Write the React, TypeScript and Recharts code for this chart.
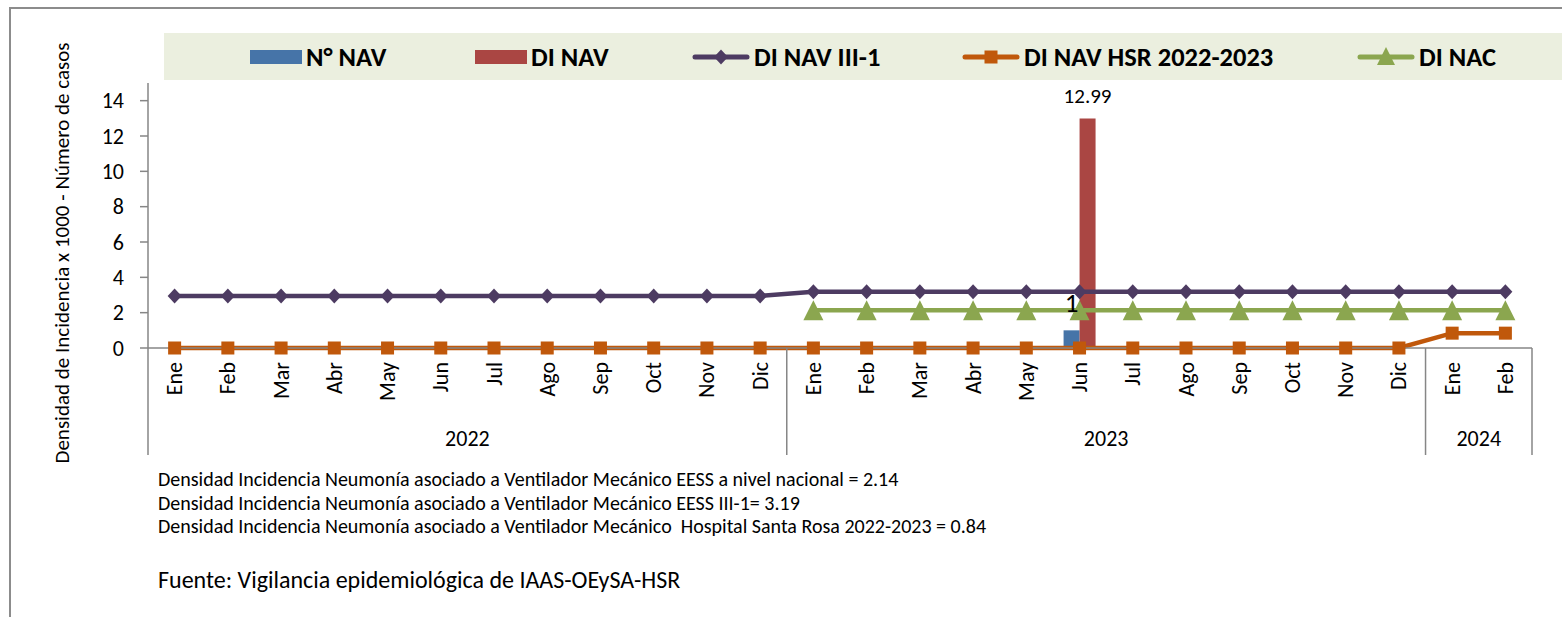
import React from 'react';
import { ComposedChart, Bar, Line, XAxis, YAxis, LabelList } from 'recharts';

// ---------- data ----------
const months = ['Ene', 'Feb', 'Mar', 'Abr', 'May', 'Jun', 'Jul', 'Ago', 'Sep', 'Oct', 'Nov', 'Dic',
  'Ene', 'Feb', 'Mar', 'Abr', 'May', 'Jun', 'Jul', 'Ago', 'Sep', 'Oct', 'Nov', 'Dic',
  'Ene', 'Feb'];
const yearLabels = ['2022', '2023', '2024'];
const monthsPerYear = [12, 12, 2];

const nNav = [null, null, null, null, null, null, null, null, null, null, null, null,
  null, null, null, null, null, 1, null, null, null, null, null, null,
  null, null];
const diNav = [null, null, null, null, null, null, null, null, null, null, null, null,
  null, null, null, null, null, 12.99, null, null, null, null, null, null,
  null, null];
const diNavIII = [2.95, 2.95, 2.95, 2.95, 2.95, 2.95, 2.95, 2.95, 2.95, 2.95, 2.95, 2.95,
  3.19, 3.19, 3.19, 3.19, 3.19, 3.19, 3.19, 3.19, 3.19, 3.19, 3.19, 3.19,
  3.19, 3.19];
const diNavHsr = [0, 0, 0, 0, 0, 0, 0, 0, 0, 0, 0, 0,
  0, 0, 0, 0, 0, 0, 0, 0, 0, 0, 0, 0,
  0.84, 0.84];
const diNac = [null, null, null, null, null, null, null, null, null, null, null, null,
  2.14, 2.14, 2.14, 2.14, 2.14, 2.14, 2.14, 2.14, 2.14, 2.14, 2.14, 2.14,
  2.14, 2.14];

const yTicks = [0, 2, 4, 6, 8, 10, 12, 14];

const seriesNames = ['N° NAV', 'DI NAV', 'DI NAV III-1', 'DI NAV HSR 2022-2023', 'DI NAC'];
const yTitle = 'Densidad de Incidencia x 1000 - Número de casos';
const notes = [
  'Densidad Incidencia Neumonía asociado a Ventilador Mecánico EESS a nivel nacional = 2.14',
  'Densidad Incidencia Neumonía asociado a Ventilador Mecánico EESS III-1= 3.19',
  'Densidad Incidencia Neumonía asociado a Ventilador Mecánico  Hospital Santa Rosa 2022-2023 = 0.84',
];
const source = 'Fuente: Vigilancia epidemiológica de IAAS-OEySA-HSR';

// ---------- derived ----------
const yearOfIndex: string[] = [];
const groupStart: number[] = [];
{
  let s = 0;
  monthsPerYear.forEach((n, g) => {
    groupStart.push(s);
    for (let k = 0; k < n; k++) yearOfIndex.push(yearLabels[g]);
    s += n;
  });
}
const data = months.map((m, i) => ({
  key: `${yearOfIndex[i]}-${m}-${i}`,
  month: m,
  nNav: nNav[i],
  diNav: diNav[i],
  diNavIII: diNavIII[i],
  diNavHsr: diNavHsr[i],
  diNac: diNac[i],
}));

// ---------- layout / style ----------
const FONT = "Carlito, Calibri, 'Open Sans', sans-serif";
const W = 1562;
const H = 617;
const Y_AXIS_W = 148;
const X_AXIS_H = 110;
const MARGIN = { top: 83, right: 30, left: 0, bottom: 159 };
const PLOT_W = W - MARGIN.left - MARGIN.right - Y_AXIS_W;
const BAND = PLOT_W / months.length;
const AXIS_GREY = '#868686';

const C_BLUE = '#4674A8';
const C_RED = '#AA4643';
const C_PURPLE = '#4D3B62';
const C_ORANGE = '#C0580B';
const C_GREEN = '#8BA64F';

const Diamond = ({ cx, cy, fill, size = 7.5 }: any) =>
  <polygon points={`${cx},${cy - size} ${cx + size - 0.5},${cy} ${cx},${cy + size} ${cx - size + 0.5},${cy}`} fill={fill} />;
const Square = ({ cx, cy, fill, size = 6.5 }: any) =>
  <rect x={cx - size} y={cy - size} width={size * 2} height={size * 2} fill={fill} />;
const Triangle = ({ cx, cy, fill, size = 10 }: any) =>
  <polygon points={`${cx},${cy - size} ${cx + size},${cy + size} ${cx - size},${cy + size}`} fill={fill} />;

const mkDot = (Shape: any, fill: string) => (p: any) => {
  if (p.cy == null || p.value == null || (Array.isArray(p.value) && p.value[1] == null)) return <g key={`e-${p.index}`} />;
  return <Shape key={`d-${p.index}`} cx={p.cx} cy={p.cy} fill={fill} />;
};

const MonthTick = (props: any) => {
  const { x, y, payload } = props;
  const i: number = props.index ?? payload.index;
  const els: any[] = [];
  els.push(
    <text key="m" x={x} y={y + 14} transform={`rotate(-90, ${x}, ${y + 14})`} textAnchor="end"
      dominantBaseline="central" fontSize={22} fontFamily={FONT} fill="#000">{months[i]}</text>
  );
  monthsPerYear.forEach((n, g) => {
    const s = groupStart[g];
    if (i === s) {
      els.push(<line key={`s${g}`} x1={x - BAND / 2} x2={x - BAND / 2} y1={y} y2={y + 107} stroke={AXIS_GREY} strokeWidth={1.5} />);
    }
    if (i === s + n - 1 && g === monthsPerYear.length - 1) {
      els.push(<line key={`e${g}`} x1={x + BAND / 2} x2={x + BAND / 2} y1={y} y2={y + 107} stroke={AXIS_GREY} strokeWidth={1.5} />);
    }
    const mid = s + Math.floor((n - 1) / 2);
    if (i === mid) {
      const lx = n % 2 === 0 ? x + BAND / 2 : x;
      els.push(<text key={`y${g}`} x={lx} y={y + 90} textAnchor="middle" dominantBaseline="central"
        fontSize={22} fontFamily={FONT} fill="#000">{yearLabels[g]}</text>);
    }
  });
  return <g>{els}</g>;
};

const YTitle = () => (
  <text transform="translate(62, 253) rotate(-90)" textAnchor="middle" dominantBaseline="central"
    fontSize={21} fontFamily={FONT} fill="#000">{yTitle}</text>
);

const LegendIcon = ({ kind, color }: { kind: string; color: string }) => {
  if (kind === 'bar') {
    return <svg width={52} height={16} style={{ display: 'block' }}><rect x={0} y={1} width={52} height={14} fill={color} /></svg>;
  }
  return (
    <svg width={58} height={24} style={{ display: 'block' }}>
      <line x1={3} x2={55} y1={12} y2={12} stroke={color} strokeWidth={5} strokeLinecap="round" />
      {kind === 'diamond' && <Diamond cx={29} cy={12} fill={color} />}
      {kind === 'square' && <Square cx={29} cy={12} fill={color} />}
      {kind === 'triangle' && <Triangle cx={29} cy={11} fill={color} size={9} />}
    </svg>
  );
};

const LEGEND_LEFT = 164;
const legendItems = [
  { name: seriesNames[0], kind: 'bar', color: C_BLUE, left: 250 },
  { name: seriesNames[1], kind: 'bar', color: C_RED, left: 475 },
  { name: seriesNames[2], kind: 'diamond', color: C_PURPLE, left: 692 },
  { name: seriesNames[3], kind: 'square', color: C_ORANGE, left: 962 },
  { name: seriesNames[4], kind: 'triangle', color: C_GREEN, left: 1357 },
];

export default function App() {
  return (
    <div style={{ position: 'absolute', left: 0, top: 0, width: W, height: H, overflow: 'hidden', background: '#fff' }}>
      <div style={{ position: 'absolute', left: 9, top: 7, width: 1700, height: 800, borderLeft: '2px solid #8c8c8c', borderTop: '2px solid #8c8c8c' }} />
      <div style={{ position: 'absolute', left: LEGEND_LEFT, top: 33, width: 1420, height: 47, background: '#EBEFDF' }}>
        {legendItems.map((it) => (
          <div key={it.name} style={{ position: 'absolute', left: it.left - LEGEND_LEFT, top: 0, height: 47, display: 'flex', alignItems: 'center', gap: 4 }}>
            <LegendIcon kind={it.kind} color={it.color} />
            <span style={{ fontFamily: FONT, fontWeight: 'bold', fontSize: 26.5, color: '#000', whiteSpace: 'nowrap' }}>{it.name}</span>
          </div>
        ))}
      </div>
      <div style={{ position: 'absolute', left: 0, top: 0 }}>
        <ComposedChart width={W} height={H} data={data} margin={MARGIN} barCategoryGap="20%" barGap={0}>
          <XAxis dataKey="key" type="category" height={X_AXIS_H} interval={0} tickLine={false} tickSize={0} tickMargin={0}
            axisLine={{ stroke: AXIS_GREY, strokeWidth: 1.5 }} tick={<MonthTick />} />
          <YAxis type="number" domain={[0, 15]} ticks={yTicks} width={Y_AXIS_W} tickSize={8} tickMargin={16}
            axisLine={{ stroke: AXIS_GREY, strokeWidth: 1.5 }} tickLine={{ stroke: AXIS_GREY, strokeWidth: 1.5 }}
            tick={{ fontSize: 22, fill: '#000', fontFamily: FONT }} label={YTitle} />
          <Bar dataKey="nNav" name={seriesNames[0]} fill={C_BLUE} isAnimationActive={false}>
            <LabelList dataKey="nNav" position="top" offset={18} fill="#000" fontSize={27} fontFamily={FONT} />
          </Bar>
          <Bar dataKey="diNav" name={seriesNames[1]} fill={C_RED} isAnimationActive={false}>
            <LabelList dataKey="diNav" position="top" offset={16} fill="#000" fontSize={21} fontFamily={FONT} />
          </Bar>
          <Line dataKey="diNavIII" name={seriesNames[2]} stroke={C_PURPLE} strokeWidth={4.5} isAnimationActive={false}
            dot={mkDot(Diamond, C_PURPLE)} activeDot={false} />
          <Line dataKey="diNavHsr" name={seriesNames[3]} stroke={C_ORANGE} strokeWidth={4.5} isAnimationActive={false}
            dot={mkDot(Square, C_ORANGE)} activeDot={false} />
          <Line dataKey="diNac" name={seriesNames[4]} stroke={C_GREEN} strokeWidth={4.5} isAnimationActive={false}
            dot={mkDot(Triangle, C_GREEN)} activeDot={false} />
        </ComposedChart>
      </div>
      {notes.map((t, k) => (
        <div key={k} style={{ position: 'absolute', left: 158, top: 467 + k * 23.5, fontFamily: FONT, fontSize: 20, lineHeight: '24px', color: '#000', whiteSpace: 'pre' }}>{t}</div>
      ))}
      <div style={{ position: 'absolute', left: 158, top: 565, fontFamily: FONT, fontSize: 24, lineHeight: '30px', color: '#000', whiteSpace: 'pre' }}>{source}</div>
    </div>
  );
}
